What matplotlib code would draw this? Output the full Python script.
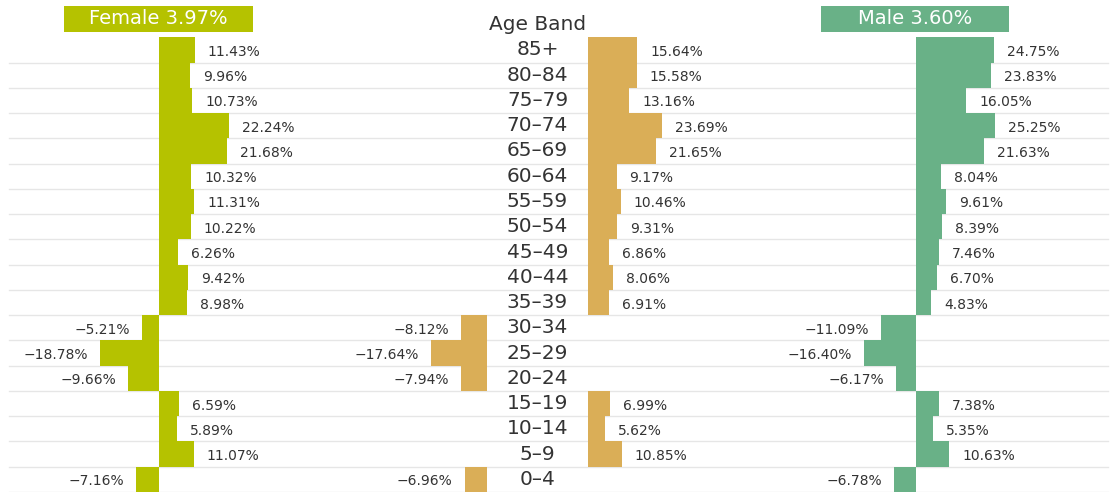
import numpy as np
import matplotlib
matplotlib.use("Agg")
import matplotlib.pyplot as plt
from matplotlib.patches import Rectangle

ages = ['85+', '80–84', '75–79', '70–74', '65–69', '60–64', '55–59', '50–54',
        '45–49', '40–44', '35–39', '30–34', '25–29', '20–24', '15–19', '10–14',
        '5–9', '0–4']
female = [11.43, 9.96, 10.73, 22.24, 21.68, 10.32, 11.31, 10.22, 6.26, 9.42,
          8.98, -5.21, -18.78, -9.66, 6.59, 5.89, 11.07, -7.16]
total = [15.64, 15.58, 13.16, 23.69, 21.65, 9.17, 10.46, 9.31, 6.86, 8.06,
         6.91, -8.12, -17.64, -7.94, 6.99, 5.62, 10.85, -6.96]
male = [24.75, 23.83, 16.05, 25.25, 21.63, 8.04, 9.61, 8.39, 7.46, 6.70,
        4.83, -11.09, -16.40, -6.17, 7.38, 5.35, 10.63, -6.78]
female_title = 'Female 3.97%'
male_title = 'Male 3.60%'
mid_title = 'Age Band'

C_F = '#B5C200'
C_T = '#DAAE57'
C_M = '#69B187'
TXT = '#333333'
FONT = 'DejaVu Sans'

W, H = 1110, 492
TOP = 37.3
S = 3.15  # px per percent
n = len(ages)
ypos = np.arange(n)

fig = plt.figure(figsize=(W / 100, H / 100), dpi=100)
fig.patch.set_facecolor('white')


def px_axes(x0, x1):
    ax = fig.add_axes([x0 / W, 0, (x1 - x0) / W, (H - TOP) / H])
    ax.set_ylim(n - 0.5, -0.5)
    ax.axis('off')
    ax.patch.set_alpha(0)
    return ax


# background with row separators and age labels
bg = px_axes(9, 1108)
bg.set_xlim(9, 1108)
for i in range(n):
    bg.axhline(i + 0.5, color='#E6E6E6', lw=1, zorder=0, clip_on=False)
for i, a in enumerate(ages):
    bg.text(537.5, i, a, ha='center', va='center', fontsize=14.5,
            color=TXT, family=FONT)


def panel(x0, x1, zero, vals, color, mask=None):
    ax = px_axes(x0, x1)
    ax.set_xlim((x0 - zero) / S, (x1 - zero) / S)
    v = np.array(vals, dtype=float)
    if mask is not None:
        v = np.where(mask(v), v, 0.0)
    ax.barh(ypos, v, height=1.0, color=color, edgecolor='none', zorder=2)
    for i, val in enumerate(v):
        if val == 0:
            continue
        lab = f'{val:.2f}%'.replace('-', '−')
        ax.annotate(lab, xy=(val, i), xytext=(13 if val > 0 else -12, -2),
                    textcoords='offset pixels',
                    ha='left' if val > 0 else 'right', va='center',
                    fontsize=10, color=TXT, family=FONT, zorder=3)
    return ax


panel(9, 380, 158.7, female, C_F)
panel(300, 486.5, 486.5, total, C_T, mask=lambda v: v < 0)
panel(587.7, 760, 587.7, total, C_T, mask=lambda v: v > 0)
panel(740, 1108, 915.8, male, C_M)

# headers
for (x0, x1, title, col) in [(64, 253, female_title, C_F),
                             (821, 1009, male_title, C_M)]:
    fig.patches.append(Rectangle((x0 / W, (H - 32) / H), (x1 - x0) / W, 26 / H,
                                 transform=fig.transFigure, facecolor=col,
                                 edgecolor='none'))
    fig.text((x0 + x1) / 2 / W, (H - 19) / H, title, ha='center', va='center',
             fontsize=14, color='white', family=FONT)

fig.text(537.5 / W, (H - 24) / H, mid_title, ha='center', va='center',
         fontsize=14.5, color=TXT, family=FONT)

fig.savefig('out.png', dpi=100, facecolor='white')
